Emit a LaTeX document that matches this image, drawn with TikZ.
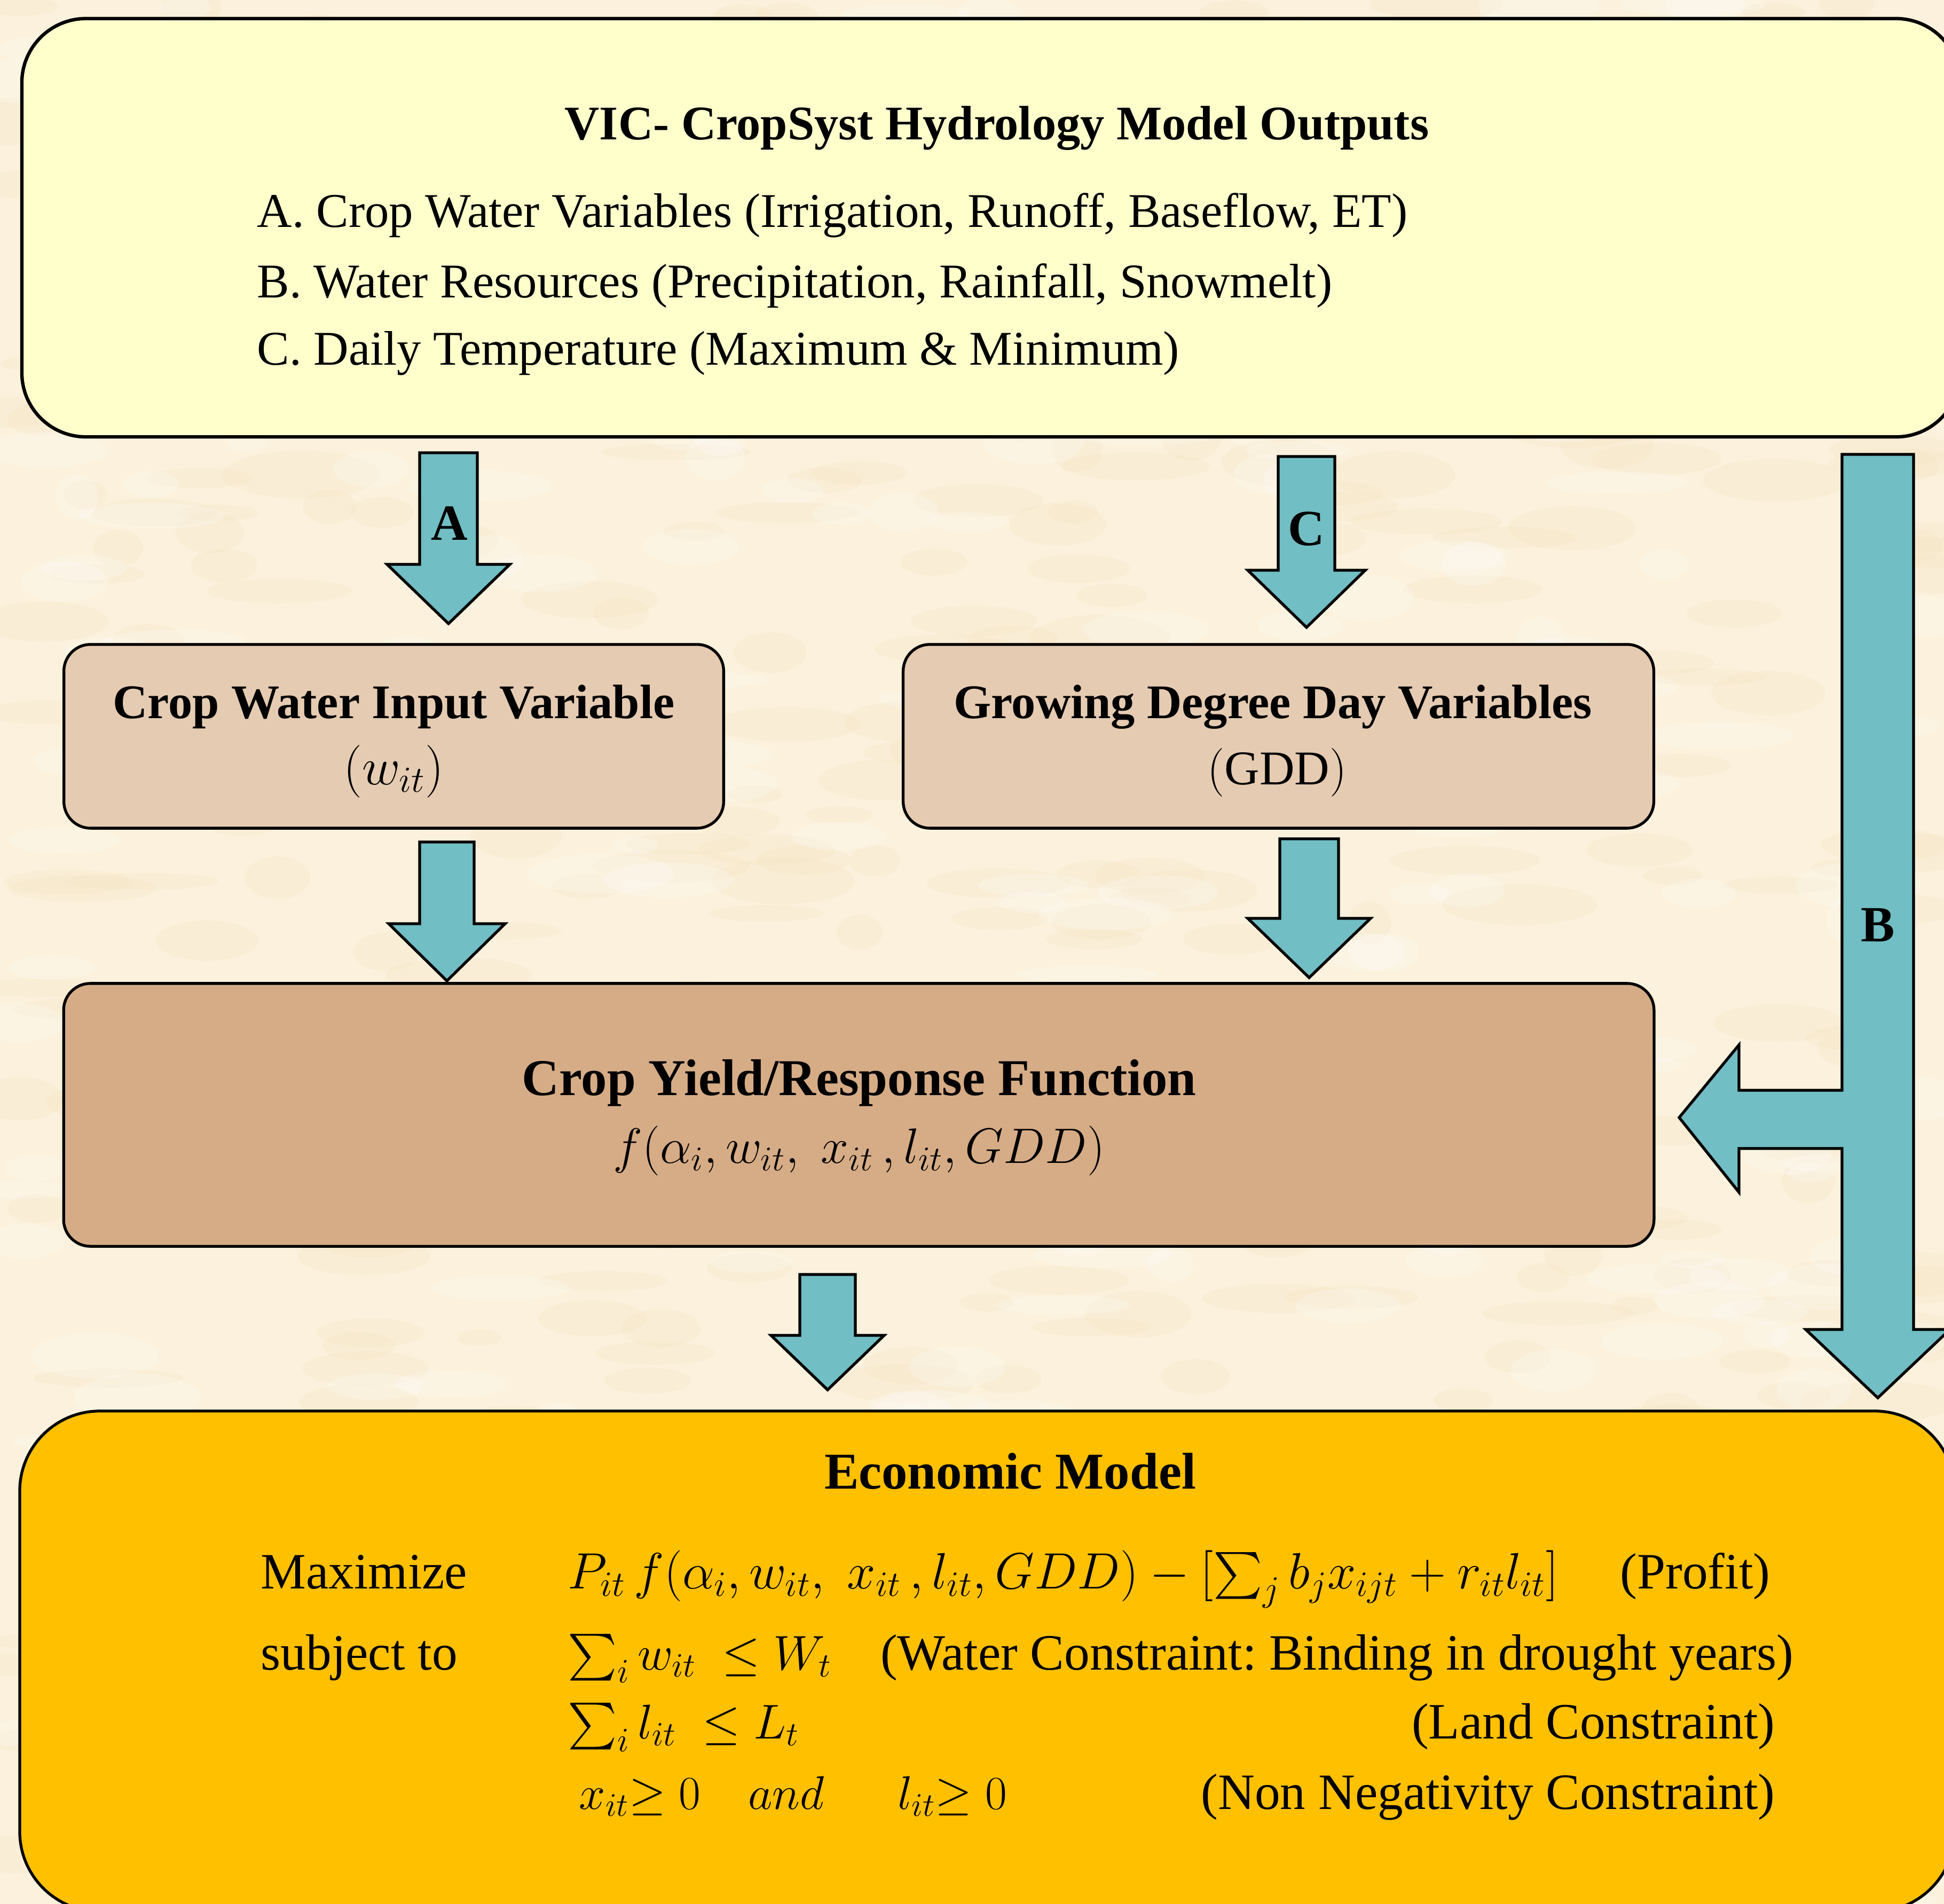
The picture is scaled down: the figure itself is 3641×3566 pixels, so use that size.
\RequirePackage{fix-cm}
\documentclass[tikz,border=0pt]{standalone}
\usepackage{amsmath}
\usepackage{fontspec}
\setmainfont{Liberation Serif}
\usetikzlibrary{calc}
\frenchspacing
\definecolor{bgcol}{HTML}{FBF1DC}
\definecolor{bgspot}{HTML}{F3E3BE}
\definecolor{arrowfill}{HTML}{71BEC4}
\definecolor{topfill}{HTML}{FFFFCC}
\definecolor{midfill}{HTML}{E5CBB1}
\definecolor{yieldfill}{HTML}{D6AC86}
\definecolor{econfill}{HTML}{FFC000}
\newcommand\myfs[1]{\fontsize{#1}{#1}\selectfont}
% #1 cx, #2 ytop, #3 ybase, #4 ytip, #5 half shaft, #6 half head
\newcommand\blockdown[6]{%
  \draw[blk] ({#1-#5},#2) -- ({#1+#5},#2) -- ({#1+#5},#3) -- ({#1+#6},#3) -- (#1,#4)
    -- ({#1-#6},#3) -- ({#1-#5},#3) -- cycle;}
\tikzset{
  blk/.style={draw=black, line width=1.5pt, fill=arrowfill, line join=miter},
  boxbase/.style={draw=black, line width=1.5pt, inner sep=0pt},
  topbox/.style={boxbase, line width=1.8pt, fill=topfill, rounded corners=1.2cm},
  midbox/.style={boxbase, fill=midfill, rounded corners=0.5cm},
  yieldbox/.style={boxbase, fill=yieldfill, rounded corners=0.5cm},
  econbox/.style={boxbase, fill=econfill, rounded corners=1.5cm},
  txt/.style={inner sep=0pt, font=\myfs{25.8}},
  btxt/.style={inner sep=0pt, font=\myfs{25.7}\bfseries},
  etxt/.style={inner sep=0pt, font=\myfs{27.1}},
  mtxt/.style={inner sep=0pt, font=\myfs{26}, text height=0.7em, text depth=0.2em},
  lbl/.style={inner sep=0pt, font=\myfs{27}\bfseries},
}
\begin{document}
\begin{tikzpicture}[x=0.01cm,y=-0.01cm]
\useasboundingbox (0,0) rectangle (3641,3566);
\clip (0,0) rectangle (3641,3566);
\fill[bgcol] (0,0) rectangle (3641,3566);
% parchment texture
\pgfmathsetseed{11}
\foreach \i in {1,...,450}{
  \pgfmathsetmacro\px{rnd*3641}
  \pgfmathsetmacro\py{rnd*3566}
  \pgfmathsetmacro\rx{40+rnd*110}
  \pgfmathsetmacro\ry{15+rnd*30}
  \fill[bgspot, opacity=0.22] (\px,\py) ellipse [x radius=\rx, y radius=\ry];
}
\foreach \i in {1,...,300}{
  \pgfmathsetmacro\px{rnd*3641}
  \pgfmathsetmacro\py{rnd*3566}
  \pgfmathsetmacro\rx{40+rnd*100}
  \pgfmathsetmacro\ry{15+rnd*30}
  \fill[white, opacity=0.22] (\px,\py) ellipse [x radius=\rx, y radius=\ry];
}

% top box
\node[topbox, minimum width=36.28cm, minimum height=7.83cm] (top) at (1856,426.5) {};
\node[btxt, anchor=base] (title) at (1867,261) {VIC- CropSyst Hydrology Model Outputs};
\node[txt, anchor=base west] (la) at (481,425) {A. Crop Water Variables (Irrigation, Runoff, Baseflow, ET)};
\node[txt, anchor=base west] (lb) at (481,557) {B. Water Resources (Precipitation, Rainfall, Snowmelt)};
\node[txt, anchor=base west] (lc) at (481,683) {C. Daily Temperature (Maximum \& Minimum)};

% middle boxes
\node[midbox, minimum width=12.35cm, minimum height=3.44cm] (cw) at (737.5,1379) {};
\node[btxt, anchor=base] (cwt) at (737.5,1345) {Crop Water Input Variable};
\node[txt, anchor=base, font=\myfs{28}] (cwm) at (737.5,1469) {$(w_{it})$};

\node[midbox, minimum width=14.05cm, minimum height=3.44cm] (gdd) at (2394.5,1379) {};
\node[btxt, anchor=base] (gddt) at (2384,1345) {Growing Degree Day Variables};
\node[txt, anchor=base] (gddm) at (2392,1469) {$(\mathrm{GDD})$};

% yield box
\node[yieldbox, minimum width=29.77cm, minimum height=4.92cm] (yield) at (1608.5,2088) {};
\node[btxt, anchor=base, font=\myfs{27.5}\bfseries] (yt) at (1609,2051) {Crop Yield/Response Function};
\node[txt, anchor=base, font=\myfs{26.5}] (ym) at (1609,2178) {$f(\alpha_i, w_{it},\; x_{it}\,, l_{it}, GDD)$};

% economic box
\node[econbox, minimum width=36.22cm, minimum height=9.37cm] (econ) at (1849,3111.5) {};
\node[btxt, anchor=base, font=\myfs{27.5}\bfseries] (et) at (1892,2788) {Economic Model};
\node[etxt, anchor=base west] (max) at (488,2975) {Maximize};
\node[mtxt, anchor=base west, font=\myfs{27.2}] (f1) at (1063,2975) {$P_{it}\,f(\alpha_i, w_{it},\; x_{it}\,, l_{it}, GDD) - [\textstyle\sum_j b_j x_{ijt} + r_{it} l_{it}]$};
\node[etxt, anchor=base east] (p1) at (3316,2975) {(Profit)};
\node[etxt, anchor=base west] (sub) at (488,3127) {subject to};
\node[mtxt, anchor=base west] (f2) at (1063,3127) {$\textstyle\sum_i w_{it}\ \leq W_t$};
\node[etxt, anchor=base east] (p2) at (3360,3127) {(Water Constraint: Binding in drought years)};
\node[mtxt, anchor=base west] (f3) at (1063,3256) {$\textstyle\sum_i l_{it}\ \leq L_t$};
\node[etxt, anchor=base east] (p3) at (3325,3256) {(Land Constraint)};
\node[mtxt, anchor=base west, font=\myfs{25.2}] (f4) at (1084,3388) {$x_{it}{\geq}\;0\;\;\;\, and\;\;\;\;\;\, l_{it}{\geq}\;0$};
\node[etxt, anchor=base east] (p4) at (3325,3388) {(Non Negativity Constraint)};

% block arrows
\blockdown{840}{848}{1057}{1168}{54}{115}
\node[lbl] (la1) at (842,980) {A};
\blockdown{2447}{855}{1068}{1175}{53}{110}
\node[lbl] (lc1) at (2447,991) {C};
\blockdown{837}{1577}{1730}{1837}{51}{109}
\blockdown{2452}{1571}{1720}{1831}{55}{115}
\blockdown{1550}{2387}{2501}{2603}{52}{106}

% B arrow with side branch
\draw[blk] (3450,851) -- (3584,851) -- (3584,2490) -- (3652,2490) -- (3517,2618)
  -- (3382,2490) -- (3450,2490) -- (3450,2151) -- (3257,2151) -- (3257,2233)
  -- (3145,2093) -- (3257,1957) -- (3257,2042) -- (3450,2042) -- cycle;
\node[lbl] (lb1) at (3517,1733) {B};
\end{tikzpicture}
\end{document}
